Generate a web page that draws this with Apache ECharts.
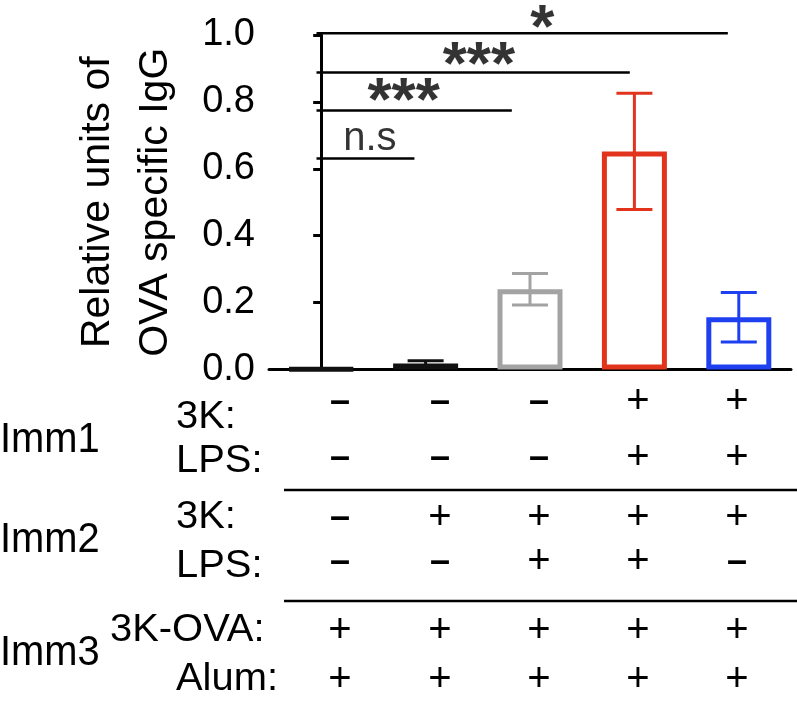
<!DOCTYPE html>
<html>
<head>
<meta charset="utf-8">
<script src="https://cdn.jsdelivr.net/npm/echarts@6/dist/echarts.min.js"></script>
<style>
html,body{margin:0;padding:0;background:#fff;}
#chart{width:797px;height:701px;}
</style>
</head>
<body>
<div id="chart"></div>
<script>
// ---- data ----
const categories = ['G1', 'G2', 'G3', 'G4', 'G5'];
const means = [0.002, 0.018, 0.240, 0.652, 0.156];
const errs = [0.0, 0.008, 0.047, 0.174, 0.074];
const barColors = ['#111111', '#111111', '#a3a3a3', '#e2341d', '#1e40f0'];
const yTicks = [0, 0.2, 0.4, 0.6, 0.8, 1.0];

const sigText = ['n.s', '***', '***', '*'];
const sigY = [0.631, 0.774, 0.888, 1.005];
const sigStart = [-0.045, -0.045, -0.045, -0.045];
const sigEnd = [0.893, 1.826, 2.956, 3.895];
const sigTextX = [0.466, 0.79, 1.51, 2.118];
const sigTextY = [0.690, 0.798, 0.904, 1.016];

const groupLabels = ['Imm1', 'Imm2', 'Imm3'];
const rowLabels = ['3K:', 'LPS:', '3K:', 'LPS:', '3K-OVA:', 'Alum:'];
const imm1_3K = ['–', '–', '–', '+', '+'];
const imm1_LPS = ['–', '–', '–', '+', '+'];
const imm2_3K = ['–', '+', '+', '+', '+'];
const imm2_LPS = ['–', '–', '+', '+', '–'];
const imm3_OVA = ['+', '+', '+', '+', '+'];
const imm3_Alum = ['+', '+', '+', '+', '+'];
const signRows = [imm1_3K, imm1_LPS, imm2_3K, imm2_LPS, imm3_OVA, imm3_Alum];

// ---- layout ----
const FONT = '"Liberation Sans", Arial, Helvetica, sans-serif';
const colX = [340, 440, 539, 638, 737];
const signRowY = [402, 458, 518, 562, 631, 680];
const labelRowY = [418, 462, 518, 567, 631, 680];
const labelX = [176, 176, 176, 176, 110, 176];
const groupY = [440, 540, 653];
const tableLineY = [490, 601];

const chart = echarts.init(document.getElementById('chart'), null, {renderer: 'canvas'});

const graphics = [];
signRows.forEach((row, r) => {
  row.forEach((s, c) => {
    graphics.push({
      type: 'text', x: colX[c], y: signRowY[r],
      style: {text: s, font: (s === '+' ? '40px ' : 'bold 36px ') + FONT, fill: '#000', textAlign: 'center', textVerticalAlign: 'middle'}
    });
  });
});
rowLabels.forEach((t, r) => {
  graphics.push({
    type: 'text', x: labelX[r], y: labelRowY[r], scaleX: 1.05,
    style: {text: t, font: '38px ' + FONT, fill: '#000', textAlign: 'left', textVerticalAlign: 'middle'}
  });
});
groupLabels.forEach((t, i) => {
  graphics.push({
    type: 'text', x: 0, y: groupY[i], scaleX: 0.95,
    style: {text: t, font: '42px ' + FONT, fill: '#000', textAlign: 'left', textVerticalAlign: 'middle'}
  });
});
tableLineY.forEach(y => {
  graphics.push({type: 'line', shape: {x1: 284, y1: y, x2: 797, y2: y}, style: {stroke: '#000', lineWidth: 2.5}});
});

const sigSeries = sigY.map((y, i) => ({
  type: 'line', xAxisIndex: 1, yAxisIndex: 0, clip: false, silent: true,
  symbol: 'none', lineStyle: {color: '#000', width: 2.5},
  data: [[sigStart[i], y], [sigEnd[i], y]], z: 5
}));

const sigLabelSeries = {
  type: 'scatter', xAxisIndex: 1, yAxisIndex: 0, clip: false, silent: true,
  symbolSize: 0,
  data: sigText.map((t, i) => ({
    value: [sigTextX[i], sigTextY[i]],
    label: {
      show: true, position: 'inside', formatter: t, color: '#000',
      textBorderWidth: 0, textBorderColor: 'transparent',
      fontFamily: FONT,
      fontSize: t === 'n.s' ? 40 : 62,
      fontWeight: t === 'n.s' ? 'normal' : 'bold'
    }
  })),
  z: 6
};

const option = {
  backgroundColor: '#fff',
  animation: false,
  graphic: graphics,
  grid: {left: 269, top: 35, width: 522, height: 334.5, containLabel: false},
  xAxis: [
    {type: 'category', data: categories, axisLine: {show: true, lineStyle: {color: '#000', width: 3}},
     axisTick: {show: false}, axisLabel: {show: false}},
    {type: 'value', min: -0.5, max: 4.5, show: false}
  ],
  yAxis: [{
    type: 'value', min: 0, max: 1.0, interval: 0.2,
    name: 'Relative units of\nOVA specific IgG',
    nameLocation: 'middle', nameGap: 84, nameRotate: 90,
    nameTextStyle: {fontFamily: FONT, fontSize: 41, color: '#000', lineHeight: 58},
    axisLine: {show: true, lineStyle: {color: '#000', width: 3}},
    axisTick: {show: true, length: 8, lineStyle: {color: '#000', width: 3}},
    axisLabel: {fontFamily: FONT, fontSize: 38, color: '#000', margin: 14,
      formatter: v => v.toFixed(1)},
    splitLine: {show: false}
  }],
  series: [
    {
      type: 'bar', data: means.map((v, i) => ({value: v, itemStyle: {color: '#fff', borderColor: barColors[i], borderWidth: 5}})),
      barWidth: 65, z: 2
    },
    {
      type: 'custom', z: 3,
      data: means.map((m, i) => [i, m - errs[i], m + errs[i]]),
      renderItem: function (params, api) {
        const i = api.value(0);
        if (errs[i] <= 0) return null;
        const lo = api.coord([i, api.value(1)]);
        const hi = api.coord([i, api.value(2)]);
        const half = 18;
        const st = {stroke: barColors[i], lineWidth: 3};
        return {type: 'group', children: [
          {type: 'line', shape: {x1: lo[0], y1: lo[1], x2: hi[0], y2: hi[1]}, style: st},
          {type: 'line', shape: {x1: lo[0] - half, y1: lo[1], x2: lo[0] + half, y2: lo[1]}, style: st},
          {type: 'line', shape: {x1: hi[0] - half, y1: hi[1], x2: hi[0] + half, y2: hi[1]}, style: st}
        ]};
      }
    },
    ...sigSeries,
    sigLabelSeries
  ]
};
chart.setOption(option);
</script>
</body>
</html>
